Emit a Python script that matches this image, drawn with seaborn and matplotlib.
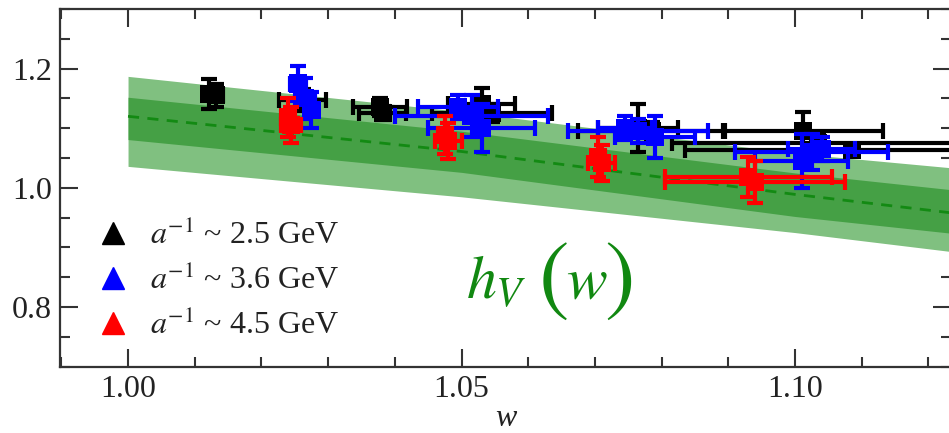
import numpy as np
import pandas as pd
import matplotlib
matplotlib.use("Agg")
import matplotlib.pyplot as plt
from matplotlib.lines import Line2D
from matplotlib.ticker import MultipleLocator, FixedLocator
import seaborn as sns

# ---- data ----
band_w = [1.000, 1.050, 1.100, 1.125]
band_c = [1.120, 1.061, 0.989, 0.956]
band_inner_hi = [1.152, 1.095, 1.025, 0.995]
band_inner_lo = [1.081, 1.026, 0.952, 0.922]
band_outer_hi = [1.187, 1.128, 1.058, 1.032]
band_outer_lo = [1.036, 0.985, 0.925, 0.891]

black_w = [1.0122, 1.0132, 1.0262, 1.0378, 1.0382, 1.0530, 1.0545, 1.0765, 1.0785, 1.1012, 1.1035, 1.1085]
black_y = [1.158, 1.155, 1.147, 1.135, 1.125, 1.140, 1.125, 1.100, 1.095, 1.095, 1.075, 1.064]
black_xerr = [0.0010, 0.0010, 0.0035, 0.0040, 0.0035, 0.0050, 0.0090, 0.0060, 0.0110, 0.0120, 0.0220, 0.0250]
black_yerr = [0.025, 0.020, 0.018, 0.015, 0.012, 0.028, 0.015, 0.040, 0.015, 0.033, 0.015, 0.010]

blue_w = [1.0255, 1.0265, 1.0275, 1.0495, 1.0515, 1.0530, 1.0745, 1.0765, 1.0790, 1.1010, 1.1025, 1.1040]
blue_y = [1.175, 1.150, 1.130, 1.135, 1.120, 1.100, 1.100, 1.095, 1.085, 1.045, 1.060, 1.065]
blue_xerr = [0.0012, 0.0015, 0.0010, 0.0060, 0.0115, 0.0080, 0.0040, 0.0105, 0.0060, 0.0070, 0.0115, 0.0050]
blue_yerr = [0.030, 0.035, 0.030, 0.020, 0.035, 0.040, 0.020, 0.020, 0.035, 0.045, 0.030, 0.020]

red_w = [1.0240, 1.0245, 1.0475, 1.0480, 1.0705, 1.0710, 1.0930, 1.0940]
red_y = [1.118, 1.105, 1.088, 1.078, 1.052, 1.042, 1.018, 1.010]
red_xerr = [0.0010, 0.0015, 0.0010, 0.0020, 0.0010, 0.0020, 0.0125, 0.0135]
red_yerr = [0.032, 0.030, 0.032, 0.030, 0.034, 0.030, 0.033, 0.035]

series_labels = [r"$a^{-1}$ ~ 2.5 GeV", r"$a^{-1}$ ~ 3.6 GeV", r"$a^{-1}$ ~ 4.5 GeV"]
series_colors = ["#000000", "#0000ff", "#ff0000"]

xtick_vals = [1.00, 1.05, 1.10]
xtick_labels = ["1.00", "1.05", "1.10"]
ytick_vals = [0.8, 1.0, 1.2]
ytick_labels = ["0.8", "1.0", "1.2"]

# ---- style ----
sns.set_style("ticks")
plt.rcParams["font.family"] = ["Liberation Serif", "DejaVu Serif"]
plt.rcParams["mathtext.fontset"] = "stix"

fig = plt.figure(figsize=(9.49, 4.33), dpi=100)
ax = fig.add_axes([60 / 949, (433 - 366.7) / 433, 891 / 949, 357.7 / 433])

# ---- band ----
ax.fill_between(band_w, band_outer_lo, band_outer_hi, color="#80c080", lw=0, zorder=1)
ax.fill_between(band_w, band_inner_lo, band_inner_hi, color="#45a045", lw=0, zorder=2)
band_df = pd.DataFrame({"w": band_w, "h": band_c})
sns.lineplot(data=band_df, x="w", y="h", ax=ax, color="#138a13",
             lw=2, ls=(0, (4, 3)), zorder=3)

# ---- data points ----
groups = [(black_w, black_y, black_xerr, black_yerr),
          (blue_w, blue_y, blue_xerr, blue_yerr),
          (red_w, red_y, red_xerr, red_yerr)]
for i, ((w, y, xe, ye), lab, col) in enumerate(zip(groups, series_labels, series_colors)):
    z = 5 + 2 * i
    ax.errorbar(w, y, xerr=xe, yerr=ye, fmt="none", ecolor=col,
                elinewidth=3, capsize=6, capthick=3, zorder=z)
    df = pd.DataFrame({"w": w, "h": y})
    sns.scatterplot(data=df, x="w", y="h", color=col, marker="s", s=170,
                    edgecolor="none", ax=ax, legend=False, zorder=z + 1)

# ---- axes ----
ax.set_xlim(0.9898, 1.00 + 823 / 6670)
ax.set_ylim(0.70, 1.30)
ax.xaxis.set_major_locator(FixedLocator(xtick_vals))
ax.xaxis.set_minor_locator(MultipleLocator(0.01))
ax.yaxis.set_major_locator(FixedLocator(ytick_vals))
ax.yaxis.set_minor_locator(MultipleLocator(0.05))
ax.set_xticklabels(xtick_labels)
ax.set_yticklabels(ytick_labels)
ax.tick_params(which="both", direction="in", top=True, right=True,
               color="#333333", width=1.5, labelsize=23, labelcolor="#222222")
ax.tick_params(which="major", length=13, pad=6)
ax.tick_params(which="minor", length=7.5)
for s in ax.spines.values():
    s.set_linewidth(1.6)
    s.set_color("#333333")
ax.set_xlabel("w", fontsize=23, style="italic", labelpad=0, color="#222222")
ax.set_ylabel("")

# ---- legend ----
handles = [Line2D([], [], ls="none", marker="^", markersize=16, color=c)
           for c in series_colors]
leg = ax.legend(handles, series_labels, loc="upper left",
                bbox_to_anchor=(0.006, 0.49), frameon=False, fontsize=23,
                handletextpad=0.55, labelspacing=0.42, handlelength=1.2)
for t in leg.get_texts():
    t.set_color("#222222")

# ---- annotation h_V(w) ----
green = "#118811"
ax.text(1.0506, 0.8145, r"$h_V$", color=green, fontsize=43, ha="left", va="baseline")
ax.text(1.0614, 0.843, r"$($", color=green, fontsize=66, ha="left", va="center")
ax.text(1.0656, 0.8145, r"$w$", color=green, fontsize=44, ha="left", va="baseline")
ax.text(1.0713, 0.843, r"$)$", color=green, fontsize=66, ha="left", va="center")

fig.savefig("out.png", dpi=100)
